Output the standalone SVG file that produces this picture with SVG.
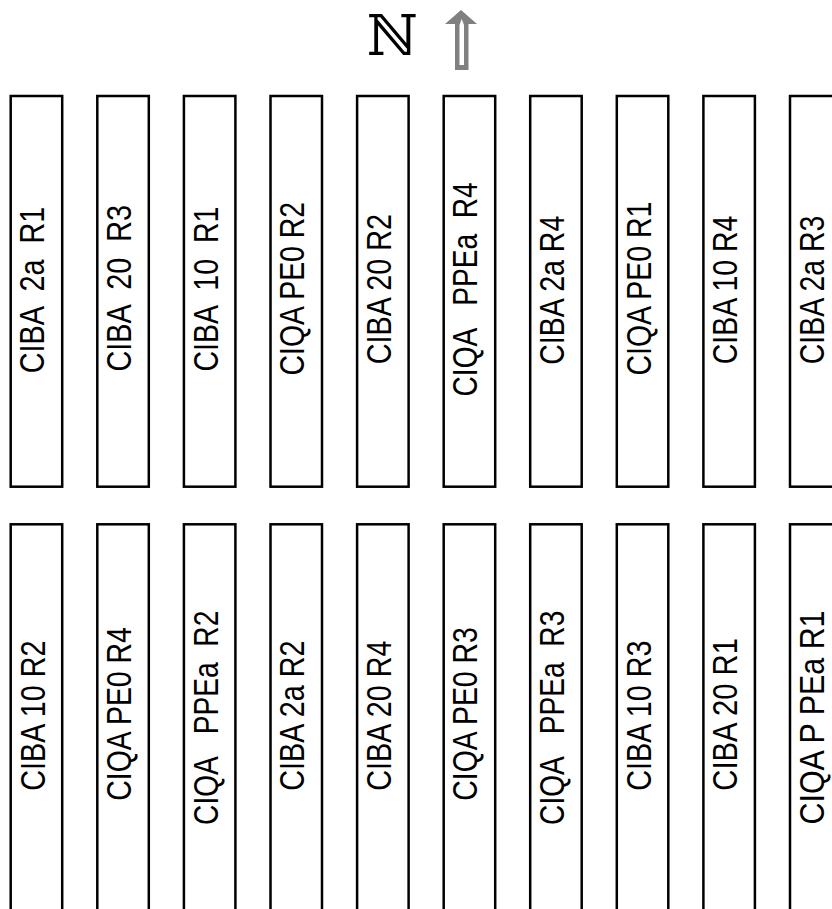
<svg xmlns="http://www.w3.org/2000/svg" width="832" height="909" viewBox="0 0 832 909" xml:space="preserve">
<style>
.plot { fill: #fff; stroke: #000; stroke-width: 2.5; }
.lbl { font-family: "Liberation Sans", Arial, sans-serif; font-size: 35px; fill: #000; white-space: pre; }
.north { font-family: "DejaVu Serif", "Liberation Serif", serif; font-size: 56px; fill: #000; }
</style>
<rect width="832" height="909" fill="#fff"/>
<g id="north-sign">
  <text class="north" x="392" y="55" text-anchor="middle">ℕ</text>
  <polygon points="461,10 477,24 468.5,24 468.5,70 455,70 455,24 445,24" fill="#808080"/>
  <polygon points="459.5,65 459.5,25 461.7,19 464,25 464,65" fill="#fff"/>
</g>
<g id="connectors"></g>
<g id="plot-t1"><rect class="plot" x="10.7" y="96" width="51.5" height="390.7"/><text class="lbl" transform="translate(44,373.2) rotate(-90)" textLength="166.6" lengthAdjust="spacingAndGlyphs">CIBA  2a  R1</text></g>
<g id="plot-t2"><rect class="plot" x="97.3" y="96" width="51.5" height="390.7"/><text class="lbl" transform="translate(130.7,371.5) rotate(-90)" textLength="166.5" lengthAdjust="spacingAndGlyphs">CIBA  20  R3</text></g>
<g id="plot-t3"><rect class="plot" x="183.9" y="96" width="51.5" height="390.7"/><text class="lbl" transform="translate(218,371.5) rotate(-90)" textLength="164.9" lengthAdjust="spacingAndGlyphs">CIBA  10  R1</text></g>
<g id="plot-t4"><rect class="plot" x="270.5" y="96" width="51.5" height="390.7"/><text class="lbl" transform="translate(304,375.5) rotate(-90)" textLength="173.5" lengthAdjust="spacingAndGlyphs">CIQA PE0 R2</text></g>
<g id="plot-t5"><rect class="plot" x="357.1" y="96" width="51.5" height="390.7"/><text class="lbl" transform="translate(390.7,364.2) rotate(-90)" textLength="150.2" lengthAdjust="spacingAndGlyphs">CIBA 20 R2</text></g>
<g id="plot-t6"><rect class="plot" x="443.7" y="96" width="51.5" height="390.7"/><text class="lbl" transform="translate(477.3,396.5) rotate(-90)" textLength="214.2" lengthAdjust="spacingAndGlyphs">CIQA   PPEa  R4</text></g>
<g id="plot-t7"><rect class="plot" x="530.2" y="96" width="51.5" height="390.7"/><text class="lbl" transform="translate(564,364.8) rotate(-90)" textLength="149.1" lengthAdjust="spacingAndGlyphs">CIBA 2a R4</text></g>
<g id="plot-t8"><rect class="plot" x="616.8" y="96" width="51.5" height="390.7"/><text class="lbl" transform="translate(650.7,375.5) rotate(-90)" textLength="173.9" lengthAdjust="spacingAndGlyphs">CIQA PE0 R1</text></g>
<g id="plot-t9"><rect class="plot" x="703.4" y="96" width="51.5" height="390.7"/><text class="lbl" transform="translate(737.3,364.2) rotate(-90)" textLength="148.5" lengthAdjust="spacingAndGlyphs">CIBA 10 R4</text></g>
<g id="plot-t10"><rect class="plot" x="790" y="96" width="51.5" height="390.7"/><text class="lbl" transform="translate(824,364.2) rotate(-90)" textLength="148.5" lengthAdjust="spacingAndGlyphs">CIBA 2a R3</text></g>
<g id="plot-b1"><rect class="plot" x="10.7" y="524.3" width="51.5" height="400"/><text class="lbl" transform="translate(45,790.7) rotate(-90)" textLength="150.1" lengthAdjust="spacingAndGlyphs">CIBA 10 R2</text></g>
<g id="plot-b2"><rect class="plot" x="97.3" y="524.3" width="51.5" height="400"/><text class="lbl" transform="translate(130.7,800.7) rotate(-90)" textLength="173.5" lengthAdjust="spacingAndGlyphs">CIQA PE0 R4</text></g>
<g id="plot-b3"><rect class="plot" x="183.9" y="524.3" width="51.5" height="400"/><text class="lbl" transform="translate(218,824.9) rotate(-90)" textLength="214.2" lengthAdjust="spacingAndGlyphs">CIQA   PPEa  R2</text></g>
<g id="plot-b4"><rect class="plot" x="270.5" y="524.3" width="51.5" height="400"/><text class="lbl" transform="translate(304,790.7) rotate(-90)" textLength="150.1" lengthAdjust="spacingAndGlyphs">CIBA 2a R2</text></g>
<g id="plot-b5"><rect class="plot" x="357.1" y="524.3" width="51.5" height="400"/><text class="lbl" transform="translate(390.7,790.7) rotate(-90)" textLength="150.1" lengthAdjust="spacingAndGlyphs">CIBA 20 R4</text></g>
<g id="plot-b6"><rect class="plot" x="443.7" y="524.3" width="51.5" height="400"/><text class="lbl" transform="translate(477.3,800.7) rotate(-90)" textLength="173.5" lengthAdjust="spacingAndGlyphs">CIQA PE0 R3</text></g>
<g id="plot-b7"><rect class="plot" x="530.2" y="524.3" width="51.5" height="400"/><text class="lbl" transform="translate(564,824.9) rotate(-90)" textLength="214.2" lengthAdjust="spacingAndGlyphs">CIQA   PPEa  R3</text></g>
<g id="plot-b8"><rect class="plot" x="616.8" y="524.3" width="51.5" height="400"/><text class="lbl" transform="translate(650.7,790.7) rotate(-90)" textLength="150.1" lengthAdjust="spacingAndGlyphs">CIBA 10 R3</text></g>
<g id="plot-b9"><rect class="plot" x="703.4" y="524.3" width="51.5" height="400"/><text class="lbl" transform="translate(737.3,790.7) rotate(-90)" textLength="152.6" lengthAdjust="spacingAndGlyphs">CIBA 20 R1</text></g>
<g id="plot-b10"><rect class="plot" x="790" y="524.3" width="51.5" height="400"/><text class="lbl" transform="translate(824,824.5) rotate(-90)" textLength="214" lengthAdjust="spacingAndGlyphs">CIQA P PEa R1</text></g>
</svg>
